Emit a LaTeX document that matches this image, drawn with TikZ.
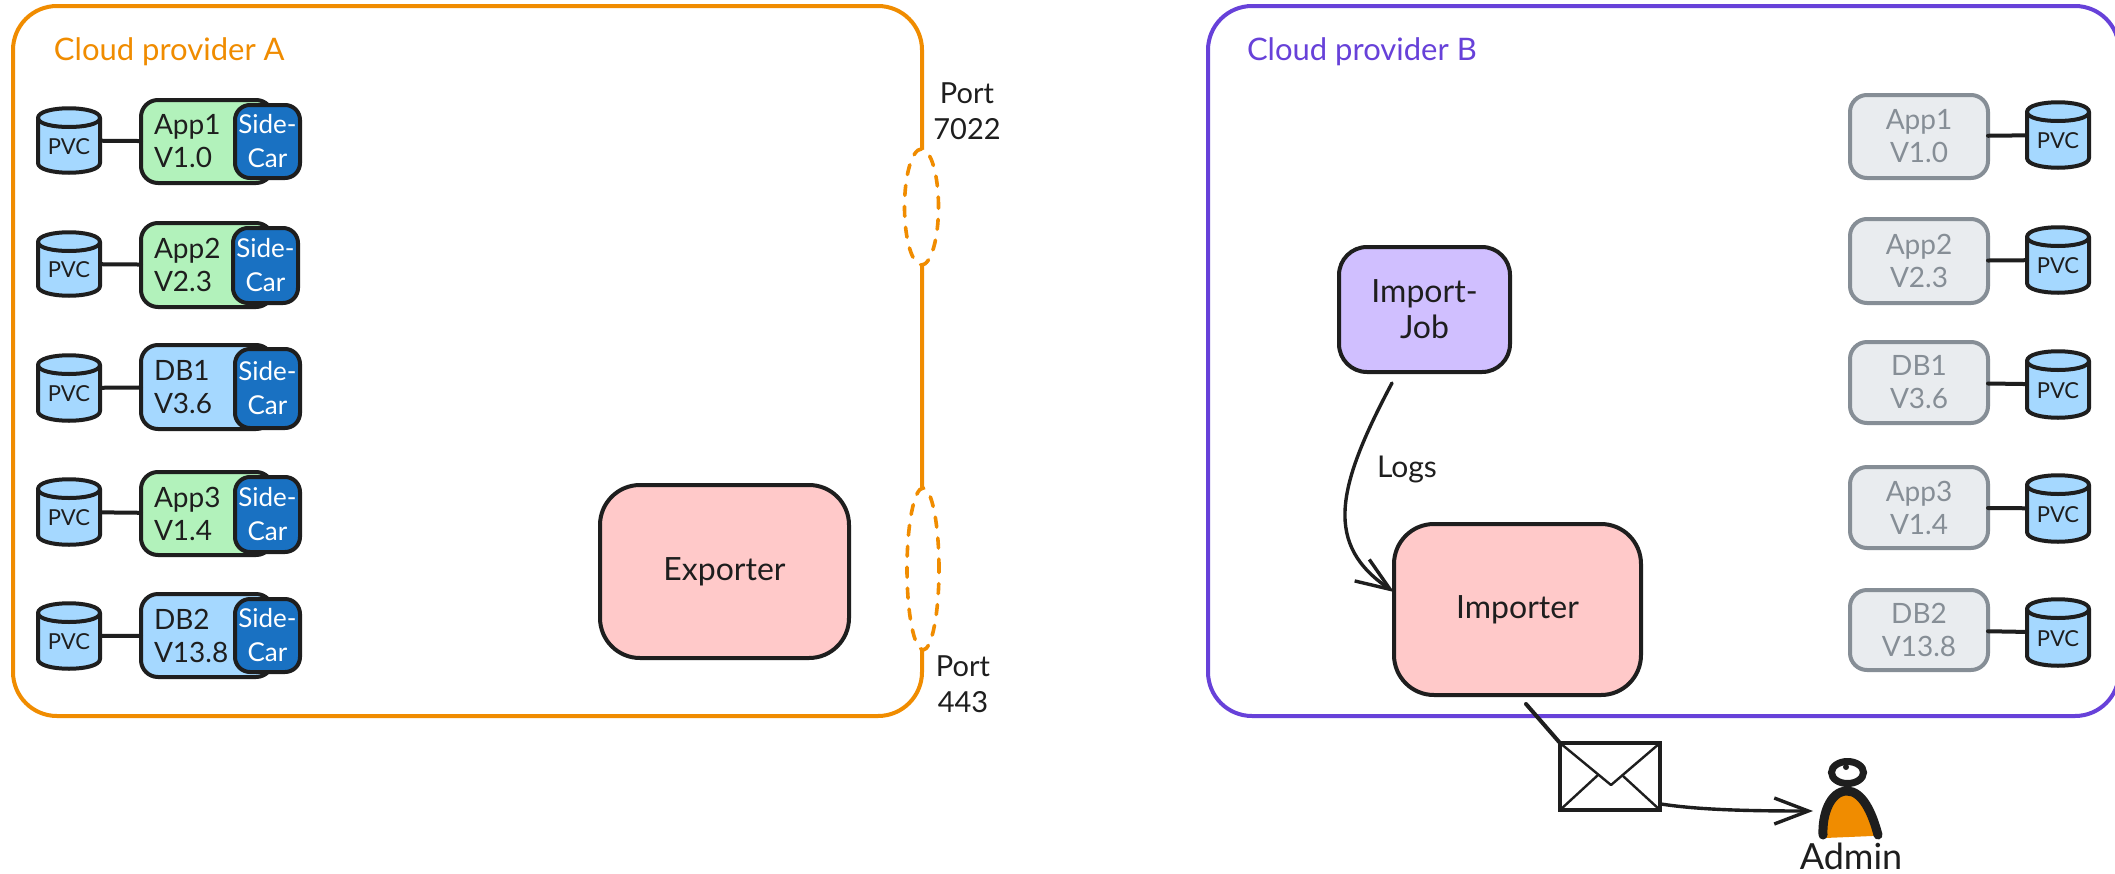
\documentclass[tikz,border=0pt]{standalone}
\usepackage{fontspec}
\setmainfont{Lato}
\usetikzlibrary{arrows.meta,shapes.geometric}
\definecolor{ink}{HTML}{1E1E1E}
\definecolor{orangeL}{HTML}{F08C00}
\definecolor{purpleL}{HTML}{6741D9}
\definecolor{greenF}{HTML}{B2F2BB}
\definecolor{blueF}{HTML}{A5D8FF}
\definecolor{sideF}{HTML}{1971C2}
\definecolor{redF}{HTML}{FFC9C9}
\definecolor{violetF}{HTML}{D0BFFF}
\definecolor{grayF}{HTML}{E9ECEF}
\definecolor{grayL}{HTML}{868E96}
\tikzset{
  x=0.5pt,y=-0.5pt,
  base/.style={draw=ink,line width=2pt,inner sep=0pt,outer sep=0pt,align=center,text=ink,line join=round},
  cloudA/.style={base,draw=orangeL,rounded corners=22pt},
  cloudB/.style={base,draw=purpleL,rounded corners=22pt},
  appbox/.style={base,rounded corners=8.5pt,align=left,font=\fontsize{14}{16.5}\selectfont},
  sidebox/.style={base,rounded corners=7.5pt,fill=sideF,text=white,font=\fontsize{13}{17}\selectfont},
  ghost/.style={base,draw=grayL,fill=grayF,text=grayL,rounded corners=8.5pt,font=\fontsize{14}{16.5}\selectfont},
  bigbox/.style={base,fill=redF,rounded corners=20pt,font=\fontsize{16}{19}\selectfont},
  jobbox/.style={base,fill=violetF,rounded corners=14pt,font=\fontsize{16}{18}\selectfont},
  port/.style={ellipse,draw=orangeL,fill=white,line width=1.8pt,dash pattern=on 5pt off 5.5pt,line cap=round,inner sep=0pt,outer sep=0pt},
  txt/.style={inner sep=0pt,outer sep=0pt,align=center,text=ink,font=\fontsize{14.5}{18}\selectfont},
  cyl/.style={draw=ink,line width=2pt,fill=blueF,line join=round},
  wire/.style={draw=ink,line width=2pt,line cap=round},
  flow/.style={draw=ink,line width=1.7pt,line cap=round,-{Straight Barb[length=17pt,width=13pt,line width=1.7pt]}},
  envl/.style={draw=ink,line width=1.2pt},
}
% name, style, x1, y1, x2, y2, text
\newcommand{\rbox}[7]{%
  \node[#2,minimum width={(#5-#3-4)*0.5pt},minimum height={(#6-#4-4)*0.5pt}] (#1) at ({(#3+#5)/2},{(#4+#6)/2}) {#7};}
% left app box with left-aligned text
\newcommand{\lapp}[7]{%
  \node[appbox,fill=#2,text width={(#5-#3-4-26)*0.5pt},inner xsep=6.5pt,minimum height={(#6-#4-4)*0.5pt}] (#1) at ({(#3+#5)/2},{(#4+#6)/2}) {#7};}
% name, x1, y1, x2, y2
\newcommand{\pvc}[5]{%
  \path[cyl] (#2,#3+10) .. controls (#2,#3-3) and (#4,#3-3) .. (#4,#3+10) -- (#4,#5-10)
     .. controls (#4,#5+3) and (#2,#5+3) .. (#2,#5-10) -- cycle;
  \path[draw=ink,line width=2pt] (#2,#3+10) .. controls (#2,#3+22) and (#4,#3+22) .. (#4,#3+10);
  \node[inner sep=0pt,outer sep=0pt,text=ink,minimum width={(#4-#2)*0.5pt},minimum height={(#5-#3)*0.5pt},font=\fontsize{11}{13}\selectfont] (#1) at ({(#2+#4)/2},{(#3+#5)/2}) {\raisebox{-3pt}[\height][0pt]{PVC}};}
\begin{document}
\begin{tikzpicture}
\useasboundingbox (0,0) rectangle (2115,873);
\fill[white] (0,0) rectangle (2115,873);

% clouds
\rbox{cloudAbox}{cloudA}{11}{4}{924}{718}{}
\rbox{cloudBbox}{cloudB}{1206}{4}{2121}{718}{}
\node[port,minimum width=17pt,minimum height=58pt] (portA) at (921.5,207) {};
\node[port,minimum width=16pt,minimum height=81pt] (portB) at (923,569) {};
\node[txt,text=orangeL,font=\fontsize{15.5}{18}\selectfont,anchor=west] (titleA) at (54,52) {Cloud provider A};
\node[txt,text=purpleL,font=\fontsize{15.5}{18}\selectfont,anchor=west] (titleB) at (1247,52) {Cloud provider B};
\node[txt] (p7022) at (967,111) {Port\\7022};
\node[txt] (p443) at (963,684) {Port\\443};

% left rows
\pvc{pa1}{38}{108}{100}{173}
\lapp{a1}{greenF}{139}{98}{275}{185}{App1\\V1.0}
\rbox{s1}{sidebox}{233}{103}{302}{180}{Side-\\Car}
\draw[wire] (pa1) -- (a1);

\pvc{pa2}{38}{232}{100}{296}
\lapp{a2}{greenF}{139}{221}{275}{309}{App2\\V2.3}
\rbox{s2}{sidebox}{231}{226}{300}{305}{Side-\\Car}
\draw[wire] (pa2) -- (a2);

\pvc{pa3}{38}{355}{100}{421}
\lapp{a3}{blueF}{139}{343}{275}{431}{DB1\\V3.6}
\rbox{s3}{sidebox}{233}{347}{302}{430}{Side-\\Car}
\draw[wire] (pa3) -- (a3);

\pvc{pa4}{38}{479}{100}{545}
\lapp{a4}{greenF}{139}{470}{275}{557}{App3\\V1.4}
\rbox{s4}{sidebox}{233}{475}{302}{554}{Side-\\Car}
\draw[wire] (pa4) -- (a4);

\pvc{pa5}{38}{603}{100}{669}
\lapp{a5}{blueF}{139}{592}{275}{679}{DB2\\V13.8}
\rbox{s5}{sidebox}{233}{597}{302}{674}{Side-\\Car}
\draw[wire] (pa5) -- (a5);

% right rows
\rbox{b1}{ghost}{1848}{93}{1990}{180}{App1\\V1.0}
\pvc{pb1}{2027}{102}{2089}{168}
\draw[wire] (b1) -- (pb1);
\rbox{b2}{ghost}{1848}{217}{1990}{305}{App2\\V2.3}
\pvc{pb2}{2027}{227}{2089}{293}
\draw[wire] (b2) -- (pb2);
\rbox{b3}{ghost}{1848}{340}{1990}{425}{DB1\\V3.6}
\pvc{pb3}{2027}{351}{2089}{418}
\draw[wire] (b3) -- (pb3);
\rbox{b4}{ghost}{1848}{465}{1990}{550}{App3\\V1.4}
\pvc{pb4}{2027}{475}{2089}{542}
\draw[wire] (b4) -- (pb4);
\rbox{b5}{ghost}{1848}{588}{1990}{672}{DB2\\V13.8}
\pvc{pb5}{2027}{599}{2089}{666}
\draw[wire] (b5) -- (pb5);

% centre boxes
\rbox{exporter}{bigbox}{598}{483}{851}{660}{Exporter}
\rbox{job}{jobbox}{1337}{245}{1512}{374}{Import-\\Job}
\rbox{importer}{bigbox}{1392}{522}{1643}{697}{Importer}

% logs
\coordinate (logstart) at (1392,383);
\node[txt,font=\fontsize{15}{18}\selectfont] (logs) at (1407,469) {Logs};
\draw[flow] (logstart) .. controls (1335,490) and (1325,545) .. (importer.west|-0,592);

% envelope
\node[draw=ink,line width=2pt,fill=white,minimum width=50pt,minimum height=33.5pt,inner sep=0pt,outer sep=0pt] (env) at (1610,776.5) {};
\draw[envl,line join=round] (env.north west) -- (1611,785) -- (env.north east);
\draw[envl] (env.south west) -- (1598,775);
\draw[envl] (env.south east) -- (1623,776);
\coordinate (mailstart) at (1526,704);
\draw[wire] (mailstart) -- (env.north west);

% admin
\fill[orangeL] (1825,838) -- (1823,835) .. controls (1822,815) and (1830,791) .. (1847,791) .. controls (1862,791) and (1872,812) .. (1878,835) -- (1872,836) -- cycle;
\draw[ink,line width=4.5pt,line cap=round] (1823,835) .. controls (1822,815) and (1830,791) .. (1847,791) .. controls (1862,791) and (1872,812) .. (1878,835);
\node[ellipse,draw=ink,fill=white,line width=3.5pt,minimum width=16pt,minimum height=11pt,inner sep=0pt,outer sep=0pt] (head) at (1847.5,772.5) {};
\fill[ink] (1846,767) circle[radius=1.5pt];
\node[txt,font=\fontsize{18}{20}\selectfont] (admin) at (1851,856) {Admin};
\coordinate (adminin) at (1813,811);
\coordinate (mailend) at (1661,804);
\draw[flow] (mailend) .. controls (1700,810) and (1750,811) .. (adminin);
\end{tikzpicture}
\end{document}
